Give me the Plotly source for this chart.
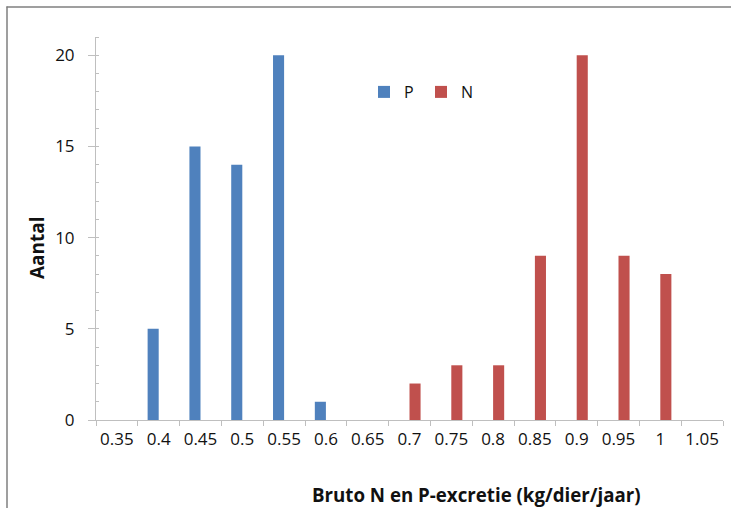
import plotly.graph_objects as go

categories = ["0.35", "0.4", "0.45", "0.5", "0.55", "0.6", "0.65", "0.7",
              "0.75", "0.8", "0.85", "0.9", "0.95", "1", "1.05"]
p_values = [None, 5, 15, 14, 20, 1, None, None, None, None, None, None, None, None, None]
n_values = [None, None, None, None, None, None, None, 2, 3, 3, 9, 20, 9, 8, None]
y_ticks = [0, 5, 10, 15, 20]

W, H = 731, 508
L, R, T, B = 96, 8, 37, 88
pw, ph = W - L - R, H - T - B

def px_x(x):
    return (x - L) / pw

def px_y(y):
    return (H - B - y) / ph

font = "Open Sans, Liberation Sans, Arial, sans-serif"
txt = "#111111"
axc = "#bfbfbf"

fig = go.Figure()
fig.add_trace(go.Bar(x=categories, y=p_values, name="P", marker_color="#4F81BD",
                     marker_line_width=0))
fig.add_trace(go.Bar(x=categories, y=n_values, name="N", marker_color="#C0504D",
                     marker_line_width=0))

fig.update_layout(
    width=W, height=H,
    margin=dict(l=L, r=R, t=T, b=B, pad=0, autoexpand=False),
    paper_bgcolor="white", plot_bgcolor="white",
    barmode="group", bargap=0.47, bargroupgap=0,
    font=dict(family=font, size=17, color=txt),
    showlegend=True,
    legend=dict(orientation="h", x=px_x(364), y=px_y(92), xanchor="left", yanchor="middle",
                font=dict(size=16, color=txt), bgcolor="rgba(0,0,0,0)",
                entrywidth=12, itemwidth=30, tracegroupgap=0),
    xaxis=dict(type="category", categoryorder="array", categoryarray=categories,
               tickson="boundaries", ticks="outside", ticklen=5, tickcolor=axc,
               showline=True, linecolor=axc, linewidth=1, showgrid=False,
               tickangle=0, automargin=False,
               tickfont=dict(size=17, color=txt), ticklabelstandoff=4),
    yaxis=dict(range=[0, 21], tickvals=y_ticks, ticks="outside", ticklen=7, tickcolor=axc,
               showline=True, linecolor=axc, linewidth=1, showgrid=False, zeroline=False,
               automargin=False,
               tickfont=dict(size=17, color=txt), ticklabelstandoff=10,
               minor=dict(dtick=1, ticks="inside", ticklen=3, tickcolor=axc, showgrid=False)),
    annotations=[
        dict(text="<b>Bruto N en P-excretie (kg/dier/jaar)</b>", xref="paper", yref="paper",
             x=px_x(476), y=px_y(494), xanchor="center", yanchor="middle", showarrow=False,
             font=dict(size=18.7, color=txt)),
        dict(text="<b>Aantal</b>", xref="paper", yref="paper", textangle=-90,
             x=px_x(37), y=px_y(248), xanchor="center", yanchor="middle", showarrow=False,
             font=dict(size=19, color=txt)),
    ],
    shapes=[
        dict(type="line", xref="paper", yref="paper", x0=px_x(6.5), x1=px_x(W + 5),
             y0=px_y(7), y1=px_y(7), line=dict(color="#7f7f7f", width=1.5)),
        dict(type="line", xref="paper", yref="paper", x0=px_x(7), x1=px_x(7),
             y0=px_y(6.5), y1=px_y(H + 5), line=dict(color="#7f7f7f", width=1.5)),
    ],
)

fig.write_html("out.html",
               config={"displayModeBar": False},
               post_script="document.body.style.margin='0';document.body.style.overflow='hidden';")
